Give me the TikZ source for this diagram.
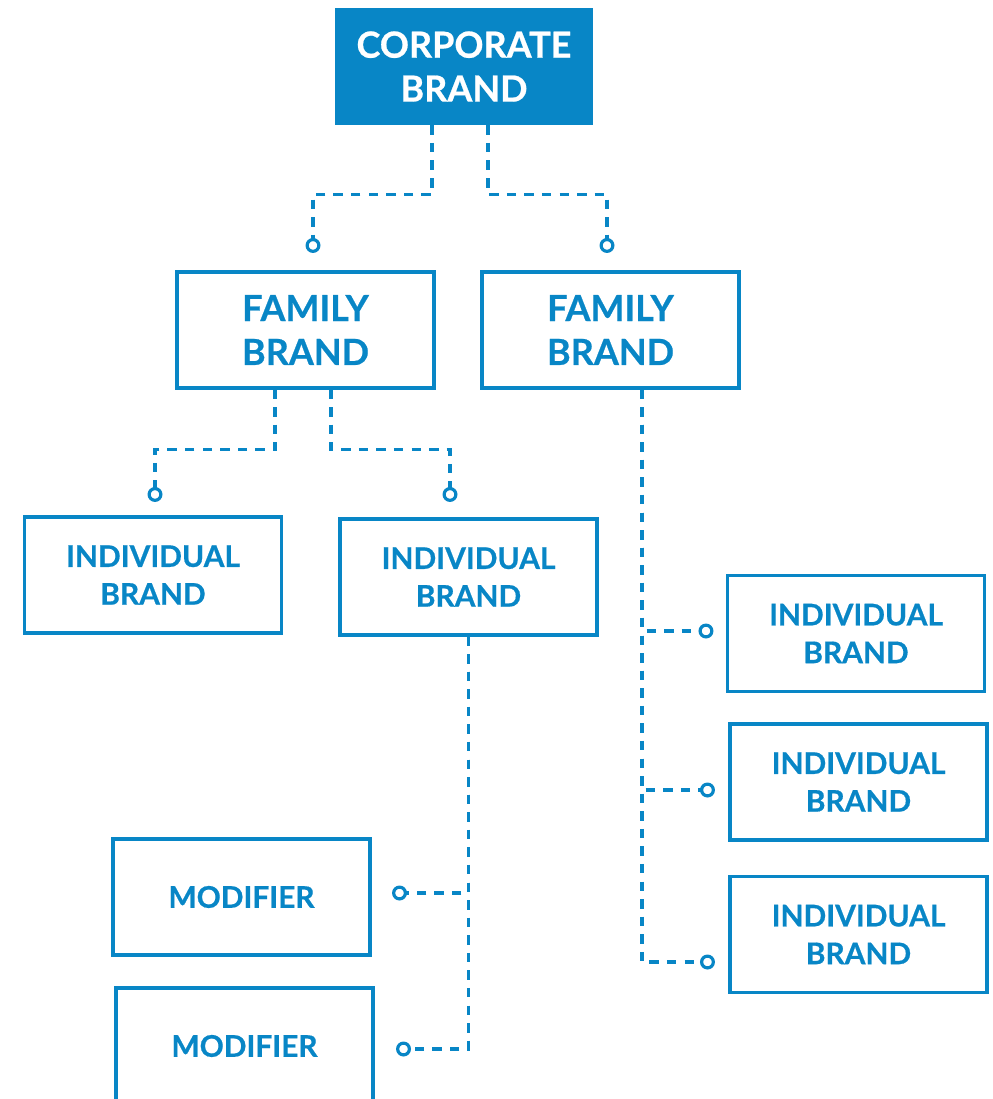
\documentclass[tikz,border=0pt]{standalone}
\usepackage{fontspec}
\setmainfont{Lato}[BoldFeatures={FakeBold=0.6}]
\usetikzlibrary{arrows.meta,calc}
\definecolor{brandblue}{RGB}{8,134,198}
\begin{document}
\begin{tikzpicture}
      [
      x=0.02cm,y=-0.02cm,
      topbox/.style={rectangle,fill=brandblue,text=white,inner sep=0pt,minimum width=5.16cm,minimum height=2.34cm,align=center,font=\bfseries\fontsize{20.5}{25}\selectfont},
      family/.style={rectangle,draw=brandblue,line width=1.8pt,text=brandblue,inner sep=0pt,minimum width=5.14cm,minimum height=2.32cm,align=center,font=\bfseries\fontsize{20.5}{25}\selectfont},
      single/.style={family,font=\bfseries\fontsize{17}{21.5}\selectfont},
      link/.style={draw=brandblue,line width=1.8pt,dash pattern=on 5.4pt off 4.6pt,-{Circle[open,length=8.5pt,width=8.5pt]}}
      ]
      \clip (0,0) rectangle (992,1099);
      \node (corp) at (464,66.5) [topbox] {CORPORATE\\BRAND};
      \node (fam1) at (305.5,330) [family] {FAMILY\\BRAND};
      \node (fam2) at (610.5,330) [family] {FAMILY\\BRAND};
      \node (ind1) at (153,575) [single] {INDIVIDUAL\\BRAND};
      \node (ind2) at (468.5,577) [single] {INDIVIDUAL\\BRAND};
      \node (ind3) at (856,633.5) [single] {INDIVIDUAL\\BRAND};
      \node (ind4) at (858.5,782) [single] {INDIVIDUAL\\BRAND};
      \node (ind5) at (858.5,934.5) [single] {INDIVIDUAL\\BRAND};
      \node (mod1) at (241.5,897) [single] {MODIFIER};
      \node (mod2) at (244.5,1046) [single] {MODIFIER};
      \draw [link] ($(corp.south)+(-32,0)$) -- ++(0,69) -| ($(fam1.north)+(7.5,-17.5)$);
      \draw [link] ($(corp.south)+(24,0)$) -- ++(0,69) -| ($(fam2.north)+(-3.5,-17.5)$);
      \draw [link] ($(fam1.south)+(-30.5,0)$) -- ++(0,60) -| ($(ind1.north)+(2,-13.5)$);
      \draw [link] ($(fam1.south)+(25.5,0)$) -- ++(0,60) -| ($(ind2.north)+(-18.5,-15.5)$);
      \draw [link] ($(fam2.south)+(31.5,0)$) |- ($(ind3.west)+(-12.5,-2.5)$);
      \draw [link] ($(fam2.south)+(31.5,0)$) |- ($(ind4.west)+(-13.5,8)$);
      \draw [link] ($(fam2.south)+(31.5,0)$) |- ($(ind5.west)+(-13.5,27.5)$);
      \draw [link] (ind2.south) |- ($(mod1.east)+(20.5,-4)$);
      \draw [link] (ind2.south) |- ($(mod2.east)+(21.5,3)$);
    \end{tikzpicture}
\end{document}
